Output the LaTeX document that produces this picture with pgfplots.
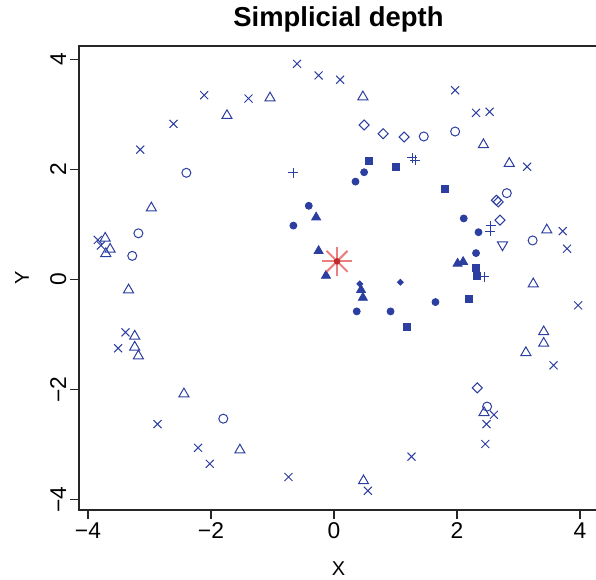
\documentclass[border=0pt]{standalone}
\usepackage{fontspec}
\setmainfont{Liberation Sans}
\usepackage{pgfplots}
\pgfplotsset{compat=1.18}
\definecolor{pblue}{RGB}{44,62,160}
\definecolor{starred}{RGB}{232,105,105}
\definecolor{stardark}{RGB}{190,40,40}
\begin{document}
\begin{tikzpicture}
\begin{axis}[name=ax, scale only axis, width=259.5pt, height=232pt,
  xmin=-4.146, xmax=4.293, ymin=-4.19, ymax=4.245,
  axis line style={black!85, line width=0.75pt},
  tick style={black!85, line width=0.75pt},
  major tick length=4.5pt, tick align=outside, tick pos=left,
  xtick={-4,-2,0,2,4}, xticklabels={−4,−2,0,2,4},
  ytick={-4,-2,0,2,4}, yticklabels={−4,−2,0,2,4},
  tick label style={font=\fontsize{11.4}{13}\selectfont},
  xticklabel style={anchor=base, yshift=-10pt},
  yticklabel style={xshift=-2pt, rotate=90, anchor=base},
  xlabel={X}, ylabel={Y},
  label style={font=\fontsize{11.4}{13}\selectfont},
  every axis x label/.style={at={(axis description cs:0.5,0)}, anchor=base, yshift=-32.5pt},
  every axis y label/.style={at={(axis description cs:0,0.5)}, xshift=-25pt, rotate=90, anchor=base},
  title={Simplicial depth},
  every axis title/.style={at={(axis description cs:0.5,1)}, anchor=base, yshift=9.5pt, font=\fontsize{13.7}{16}\selectfont\bfseries},
  clip=false,
]
% filled circles
\addplot[only marks, mark=*, mark size=1.75pt, pblue] coordinates {
(-0.41,1.34) (-0.66,0.98) (0.49,1.95) (0.35,1.78) (2.11,1.11) (2.35,0.86)
(2.31,0.48) (0.37,-0.58) (0.92,-0.58) (1.65,-0.41)};
% filled triangles
\addplot[only marks, mark=triangle*, mark size=2.6pt, pblue] coordinates {
(-0.29,1.13) (-0.25,0.52) (-0.13,0.07) (0.44,-0.19) (0.47,-0.33) (2.01,0.29) (2.10,0.32)};
% filled squares
\addplot[only marks, mark=square*, mark size=1.75pt, pblue] coordinates {
(0.57,2.16) (1.00,2.04) (1.81,1.65) (2.30,0.22) (2.33,0.07) (2.20,-0.35) (1.18,-0.86)};
% small filled diamonds
\addplot[only marks, mark=square*, mark size=1.06pt, pblue, mark options={rotate=45}] coordinates {
(0.42,-0.08) (1.08,-0.05)};
% plus
\addplot[only marks, mark=+, mark size=2.5pt, pblue, mark options={line width=0.5pt}] coordinates {
(-0.66,1.94) (1.27,2.21) (1.32,2.17) (2.55,0.98) (2.54,0.88) (2.44,0.05)};
% open diamonds
\addplot[only marks, mark=square, mark size=1.77pt, pblue, mark options={rotate=45, line width=0.5pt}] coordinates {
(0.49,2.81) (0.80,2.65) (1.14,2.59) (2.64,1.44) (2.67,1.41) (2.70,1.08) (2.33,-1.97)};
% open circles
\addplot[only marks, mark=o, mark size=2.25pt, pblue, mark options={line width=0.5pt}] coordinates {
(-2.40,1.94) (-3.18,0.84) (-3.28,0.43) (1.46,2.60) (1.97,2.69) (2.81,1.57)
(3.23,0.71) (2.49,-2.31) (-1.80,-2.53)};
% open inverted triangle
\addplot[only marks, mark=triangle, mark size=2.9pt, pblue, mark options={rotate=180, line width=0.5pt}] coordinates {
(2.74,0.63)};
% open triangles
\addplot[only marks, mark=triangle, mark size=2.9pt, pblue, mark options={line width=0.5pt}] coordinates {
(-1.04,3.30) (-1.74,2.98) (-2.97,1.30) (-3.72,0.75) (-3.64,0.55) (-3.71,0.47)
(0.47,3.32) (2.43,2.45) (2.85,2.11) (3.46,0.90) (3.24,-0.08) (3.41,-0.95)
(3.41,-1.16) (3.12,-1.33) (2.44,-2.42) (0.48,-3.66) (-3.34,-0.19) (-3.24,-1.03)
(-3.24,-1.23) (-3.18,-1.39) (-2.44,-2.08) (-1.53,-3.10)};
% crosses
\addplot[only marks, mark=x, mark size=2.83pt, pblue, mark options={line width=0.5pt}] coordinates {
(-0.60,3.92) (-0.25,3.71) (0.10,3.63) (-2.11,3.35) (-1.39,3.29) (-2.61,2.83)
(-3.15,2.36) (-3.84,0.72) (-3.79,0.62) (1.97,3.44) (2.31,3.03) (2.53,3.05)
(3.14,2.05) (3.72,0.88) (3.79,0.56) (3.97,-0.47) (3.57,-1.56) (2.60,-2.46)
(2.48,-2.63) (2.46,-2.99) (1.26,-3.22) (0.55,-3.84) (-0.74,-3.59) (-2.02,-3.35)
(-2.21,-3.06) (-2.87,-2.63) (-3.39,-0.96) (-3.51,-1.25)};
% star (deepest point)
\addplot[only marks, mark=+, mark size=7.3pt, starred, mark options={line width=1pt, opacity=0.85}] coordinates {(0.05,0.33)};
\addplot[only marks, mark=x, mark size=7.4pt, starred, mark options={line width=1pt, opacity=0.85}] coordinates {(0.05,0.33)};
\addplot[only marks, mark=*, mark size=1.4pt, stardark] coordinates {(0.05,0.33)};
\end{axis}
\pgfresetboundingbox
\path ([xshift=-39.5pt,yshift=-35pt]ax.south west) rectangle ([xshift=-1pt,yshift=23pt]ax.north east);
\end{tikzpicture}
\end{document}
